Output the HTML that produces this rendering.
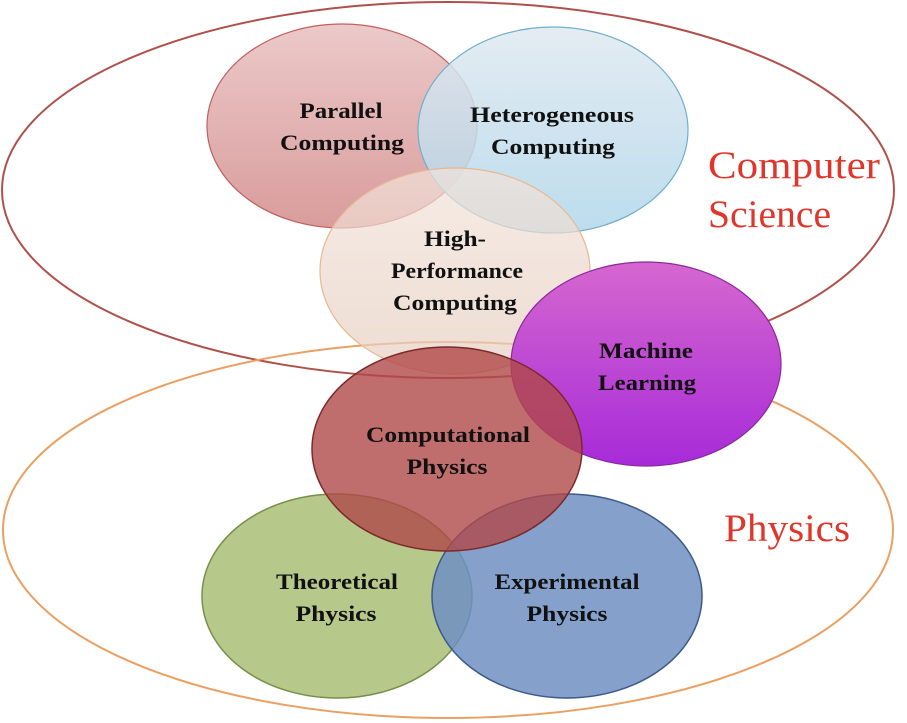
<!DOCTYPE html>
<html><head><meta charset="utf-8"><style>
html,body{margin:0;padding:0;background:#fff;width:907px;height:723px;overflow:hidden}
svg{display:block}
.t{font-family:"Liberation Serif",serif;font-weight:bold;font-size:22px;fill:#111;text-anchor:middle}
.b{font-family:"Liberation Serif",serif;font-size:39px;fill:#e0352b}
</style></head><body>
<svg width="907" height="723" viewBox="0 0 907 723" xmlns="http://www.w3.org/2000/svg">
<defs>
<linearGradient id="gp" x1="0" y1="0" x2="0" y2="1"><stop offset="0" stop-color="#ecc9c9"/><stop offset="1" stop-color="#d99c9c"/></linearGradient>
<linearGradient id="gh" x1="0" y1="0" x2="0" y2="1"><stop offset="0" stop-color="#dfe9f0"/><stop offset="1" stop-color="#b0d6ea"/></linearGradient>
<linearGradient id="gc" x1="0" y1="0" x2="0" y2="1"><stop offset="0" stop-color="#f2e3da"/><stop offset="1" stop-color="#e6cebf"/></linearGradient>
<linearGradient id="gm" x1="0" y1="0" x2="0" y2="1"><stop offset="0" stop-color="#d667cf"/><stop offset="1" stop-color="#a72bd8"/></linearGradient>
</defs>
<ellipse cx="448" cy="190" rx="446" ry="188" fill="none" stroke="#b0504a" stroke-width="2"/>
<ellipse cx="448" cy="530" rx="445" ry="188" fill="none" stroke="#e9a062" stroke-width="2"/>
<ellipse cx="342" cy="126" rx="135" ry="102" fill="url(#gp)" stroke="#c06060" stroke-width="1.2"/>
<ellipse cx="553" cy="130" rx="135" ry="103" fill="url(#gh)" fill-opacity="0.85" stroke="#6fb0cc" stroke-width="1.2"/>
<ellipse cx="455" cy="271" rx="135" ry="103" fill="url(#gc)" fill-opacity="0.7" stroke="#e8b890" stroke-width="1.2"/>
<ellipse cx="646" cy="364" rx="135" ry="102" fill="url(#gm)" stroke="#8a2a9a" stroke-width="1.2"/>
<ellipse cx="337" cy="596" rx="135" ry="102" fill="#b6c98a" stroke="#76904a" stroke-width="1.5"/>
<ellipse cx="567" cy="596" rx="135" ry="102" fill="#6f8fc2" fill-opacity="0.85" stroke="#3c5a8a" stroke-width="1.5"/>
<ellipse cx="447" cy="449" rx="135" ry="102" fill="#b04848" fill-opacity="0.8" stroke="#7a2a2a" stroke-width="1.5"/>
<g class="t">
<text class="t" x="341" y="118" textLength="83" lengthAdjust="spacingAndGlyphs">Parallel</text>
<text class="t" x="342" y="150" textLength="124" lengthAdjust="spacingAndGlyphs">Computing</text>
<text class="t" x="552" y="122" textLength="164" lengthAdjust="spacingAndGlyphs">Heterogeneous</text>
<text class="t" x="553" y="154" textLength="124" lengthAdjust="spacingAndGlyphs">Computing</text>
<text class="t" x="455" y="246" textLength="62" lengthAdjust="spacingAndGlyphs">High-</text>
<text class="t" x="457" y="278" textLength="132" lengthAdjust="spacingAndGlyphs">Performance</text>
<text class="t" x="455" y="310" textLength="124" lengthAdjust="spacingAndGlyphs">Computing</text>
<text class="t" x="646" y="358" textLength="94" lengthAdjust="spacingAndGlyphs">Machine</text>
<text class="t" x="647" y="390" textLength="98" lengthAdjust="spacingAndGlyphs">Learning</text>
<text class="t" x="448" y="442" textLength="164" lengthAdjust="spacingAndGlyphs">Computational</text>
<text class="t" x="447" y="474" textLength="81" lengthAdjust="spacingAndGlyphs">Physics</text>
<text class="t" x="337" y="589" textLength="122" lengthAdjust="spacingAndGlyphs">Theoretical</text>
<text class="t" x="336" y="621" textLength="81" lengthAdjust="spacingAndGlyphs">Physics</text>
<text class="t" x="567" y="589" textLength="145" lengthAdjust="spacingAndGlyphs">Experimental</text>
<text class="t" x="567" y="621" textLength="81" lengthAdjust="spacingAndGlyphs">Physics</text>
</g>
<text class="b" x="708" y="178" textLength="172" lengthAdjust="spacingAndGlyphs">Computer</text>
<text class="b" x="708" y="227" textLength="123" lengthAdjust="spacingAndGlyphs">Science</text>
<text class="b" x="724" y="541" textLength="126" lengthAdjust="spacingAndGlyphs">Physics</text>
</svg>
</body></html>
